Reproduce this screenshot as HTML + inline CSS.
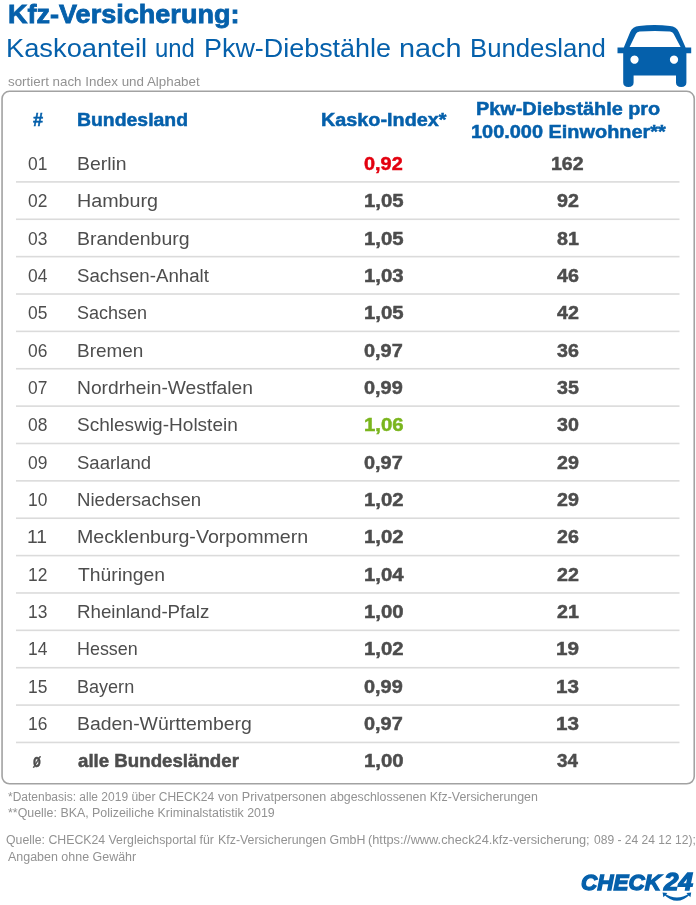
<!DOCTYPE html>
<html lang="de"><head><meta charset="utf-8"><title>Kfz-Versicherung: Kaskoanteil und Pkw-Diebstähle nach Bundesland</title>
<style>
html,body{margin:0;padding:0;background:#fff}
body{width:696px;height:905px;position:relative;overflow:hidden;font-family:"Liberation Sans",sans-serif}
.t{position:absolute;white-space:nowrap;line-height:1;transform-origin:0 0;display:block}
</style></head><body>
<svg width="696" height="905" viewBox="0 0 696 905" style="position:absolute;left:0;top:0">
<rect x="2.05" y="91.3" width="692.2" height="692.5" rx="7.5" ry="7.5" fill="none" stroke="#a2a2a2" stroke-width="1.6"/>
<rect x="16" y="181.10" width="663.5" height="1.6" fill="#dbdbdb"/>
<rect x="16" y="218.47" width="663.5" height="1.6" fill="#dbdbdb"/>
<rect x="16" y="255.84" width="663.5" height="1.6" fill="#dbdbdb"/>
<rect x="16" y="293.21" width="663.5" height="1.6" fill="#dbdbdb"/>
<rect x="16" y="330.58" width="663.5" height="1.6" fill="#dbdbdb"/>
<rect x="16" y="367.95" width="663.5" height="1.6" fill="#dbdbdb"/>
<rect x="16" y="405.32" width="663.5" height="1.6" fill="#dbdbdb"/>
<rect x="16" y="442.69" width="663.5" height="1.6" fill="#dbdbdb"/>
<rect x="16" y="480.06" width="663.5" height="1.6" fill="#dbdbdb"/>
<rect x="16" y="517.43" width="663.5" height="1.6" fill="#dbdbdb"/>
<rect x="16" y="554.80" width="663.5" height="1.6" fill="#dbdbdb"/>
<rect x="16" y="592.17" width="663.5" height="1.6" fill="#dbdbdb"/>
<rect x="16" y="629.54" width="663.5" height="1.6" fill="#dbdbdb"/>
<rect x="16" y="666.91" width="663.5" height="1.6" fill="#dbdbdb"/>
<rect x="16" y="704.28" width="663.5" height="1.6" fill="#dbdbdb"/>
<rect x="16" y="741.65" width="663.5" height="1.6" fill="#dbdbdb"/>
</svg>
<svg class="car" width="76" height="64" viewBox="617 24 76 64" style="position:absolute;left:617px;top:24px">
<path fill="#0560ab" fill-rule="evenodd" d="M617.5 47.6 H623.8 L630.2 32 Q632.6 26.6 639 26 Q654.5 24.2 670 26 Q676.4 26.6 678.8 32 L685.6 47.6 H691.2 V53.2 H686.4 V82.6 Q686.4 87 681.2 87 Q676 87 676 82.6 V75.4 H633.6 V82.6 Q633.6 87 628.4 87 Q623.2 87 623.2 82.6 V53.2 H617.5 Z
M629.6 47 L636 33.8 Q637 31.7 639.6 31.5 Q654.8 30.3 670 31.5 Q672.6 31.7 673.6 33.8 L680.6 47 Z
M634.5 55.5 a4.1 4.1 0 1 0 0.01 0 Z M674 55.5 a4.1 4.1 0 1 0 0.01 0 Z"/>
</svg>
<span class="t" style="left:7.97px;top:1.00px;font-size:26.23px;color:#0560ab;font-weight:bold;-webkit-text-stroke:0.8px #0560ab;transform:scaleX(1.0317);">Kfz-Versicherung:</span>
<span class="t" style="left:6.44px;top:36.00px;font-size:25.22px;color:#0560ab;transform:scaleX(1.0819);">Kaskoanteil</span>
<span class="t" style="left:154.81px;top:36.00px;font-size:25.22px;color:#0560ab;transform:scaleX(0.9474);">und</span>
<span class="t" style="left:203.87px;top:36.00px;font-size:25.22px;color:#0560ab;transform:scaleX(1.0669);">Pkw-Diebstähle</span>
<span class="t" style="left:399.41px;top:36.00px;font-size:25.22px;color:#0560ab;transform:scaleX(1.1431);">nach</span>
<span class="t" style="left:469.66px;top:36.00px;font-size:25.22px;color:#0560ab;transform:scaleX(1.0200);">Bundesland</span>
<span class="t" style="left:8.00px;top:75.00px;font-size:13.33px;color:#929292;transform:scaleX(1.0026);">sortiert nach Index und Alphabet</span>
<span class="t" style="left:33.30px;top:111.00px;font-size:18.7px;color:#0560ab;font-weight:bold;-webkit-text-stroke:0.5px #0560ab;transform:scaleX(0.9727);">#</span>
<span class="t" style="left:77.26px;top:111.00px;font-size:18.7px;color:#0560ab;font-weight:bold;-webkit-text-stroke:0.5px #0560ab;transform:scaleX(1.0381);">Bundesland</span>
<span class="t" style="left:320.64px;top:111.00px;font-size:18.7px;color:#0560ab;font-weight:bold;-webkit-text-stroke:0.5px #0560ab;transform:scaleX(1.0598);">Kasko-Index*</span>
<span class="t" style="left:476.24px;top:100.00px;font-size:18.7px;color:#0560ab;font-weight:bold;-webkit-text-stroke:0.5px #0560ab;transform:scaleX(1.0622);">Pkw-Diebstähle pro</span>
<span class="t" style="left:470.63px;top:123.00px;font-size:18.7px;color:#0560ab;font-weight:bold;-webkit-text-stroke:0.5px #0560ab;transform:scaleX(1.0659);">100.000 Einwohner**</span>
<span class="t" style="left:27.59px;top:154.00px;font-size:19.13px;color:#4d4d4d;transform:scaleX(0.9100);">01</span>
<span class="t" style="left:77.29px;top:154.00px;font-size:19.13px;color:#4d4d4d;transform:scaleX(1.0149);">Berlin</span>
<span class="t" style="left:364.30px;top:154.00px;font-size:19.13px;color:#e3000f;font-weight:bold;-webkit-text-stroke:0.5px #e3000f;transform:scaleX(1.0405);">0,92</span>
<span class="t" style="left:550.68px;top:154.00px;font-size:19.13px;color:#4d4d4d;font-weight:bold;-webkit-text-stroke:0.5px #4d4d4d;transform:scaleX(1.0194);">162</span>
<span class="t" style="left:27.59px;top:191.00px;font-size:19.13px;color:#4d4d4d;transform:scaleX(0.9100);">02</span>
<span class="t" style="left:77.27px;top:191.00px;font-size:19.13px;color:#4d4d4d;transform:scaleX(1.0316);">Hamburg</span>
<span class="t" style="left:364.24px;top:191.00px;font-size:19.13px;color:#4d4d4d;font-weight:bold;-webkit-text-stroke:0.5px #4d4d4d;transform:scaleX(1.0639);">1,05</span>
<span class="t" style="left:556.70px;top:191.00px;font-size:19.13px;color:#4d4d4d;font-weight:bold;-webkit-text-stroke:0.5px #4d4d4d;transform:scaleX(1.0286);">92</span>
<span class="t" style="left:27.59px;top:229.00px;font-size:19.13px;color:#4d4d4d;transform:scaleX(0.9100);">03</span>
<span class="t" style="left:77.28px;top:229.00px;font-size:19.13px;color:#4d4d4d;transform:scaleX(1.0185);">Brandenburg</span>
<span class="t" style="left:364.24px;top:229.00px;font-size:19.13px;color:#4d4d4d;font-weight:bold;-webkit-text-stroke:0.5px #4d4d4d;transform:scaleX(1.0639);">1,05</span>
<span class="t" style="left:556.70px;top:229.00px;font-size:19.13px;color:#4d4d4d;font-weight:bold;-webkit-text-stroke:0.5px #4d4d4d;transform:scaleX(1.0286);">81</span>
<span class="t" style="left:27.59px;top:266.00px;font-size:19.13px;color:#4d4d4d;transform:scaleX(0.9100);">04</span>
<span class="t" style="left:77.32px;top:266.00px;font-size:19.13px;color:#4d4d4d;transform:scaleX(0.9776);">Sachsen-Anhalt</span>
<span class="t" style="left:364.24px;top:266.00px;font-size:19.13px;color:#4d4d4d;font-weight:bold;-webkit-text-stroke:0.5px #4d4d4d;transform:scaleX(1.0639);">1,03</span>
<span class="t" style="left:556.70px;top:266.00px;font-size:19.13px;color:#4d4d4d;font-weight:bold;-webkit-text-stroke:0.5px #4d4d4d;transform:scaleX(1.0286);">46</span>
<span class="t" style="left:27.59px;top:303.00px;font-size:19.13px;color:#4d4d4d;transform:scaleX(0.9100);">05</span>
<span class="t" style="left:77.36px;top:303.00px;font-size:19.13px;color:#4d4d4d;transform:scaleX(0.9403);">Sachsen</span>
<span class="t" style="left:364.24px;top:303.00px;font-size:19.13px;color:#4d4d4d;font-weight:bold;-webkit-text-stroke:0.5px #4d4d4d;transform:scaleX(1.0639);">1,05</span>
<span class="t" style="left:556.70px;top:303.00px;font-size:19.13px;color:#4d4d4d;font-weight:bold;-webkit-text-stroke:0.5px #4d4d4d;transform:scaleX(1.0286);">42</span>
<span class="t" style="left:27.59px;top:341.00px;font-size:19.13px;color:#4d4d4d;transform:scaleX(0.9100);">06</span>
<span class="t" style="left:77.31px;top:341.00px;font-size:19.13px;color:#4d4d4d;transform:scaleX(0.9908);">Bremen</span>
<span class="t" style="left:364.30px;top:341.00px;font-size:19.13px;color:#4d4d4d;font-weight:bold;-webkit-text-stroke:0.5px #4d4d4d;transform:scaleX(1.0405);">0,97</span>
<span class="t" style="left:556.70px;top:341.00px;font-size:19.13px;color:#4d4d4d;font-weight:bold;-webkit-text-stroke:0.5px #4d4d4d;transform:scaleX(1.0286);">36</span>
<span class="t" style="left:27.59px;top:378.00px;font-size:19.13px;color:#4d4d4d;transform:scaleX(0.9100);">07</span>
<span class="t" style="left:77.29px;top:378.00px;font-size:19.13px;color:#4d4d4d;transform:scaleX(1.0058);">Nordrhein-Westfalen</span>
<span class="t" style="left:364.30px;top:378.00px;font-size:19.13px;color:#4d4d4d;font-weight:bold;-webkit-text-stroke:0.5px #4d4d4d;transform:scaleX(1.0405);">0,99</span>
<span class="t" style="left:556.70px;top:378.00px;font-size:19.13px;color:#4d4d4d;font-weight:bold;-webkit-text-stroke:0.5px #4d4d4d;transform:scaleX(1.0286);">35</span>
<span class="t" style="left:27.59px;top:415.00px;font-size:19.13px;color:#4d4d4d;transform:scaleX(0.9100);">08</span>
<span class="t" style="left:77.30px;top:415.00px;font-size:19.13px;color:#4d4d4d;transform:scaleX(0.9962);">Schleswig-Holstein</span>
<span class="t" style="left:364.24px;top:415.00px;font-size:19.13px;color:#7ab51d;font-weight:bold;-webkit-text-stroke:0.5px #7ab51d;transform:scaleX(1.0639);">1,06</span>
<span class="t" style="left:556.70px;top:415.00px;font-size:19.13px;color:#4d4d4d;font-weight:bold;-webkit-text-stroke:0.5px #4d4d4d;transform:scaleX(1.0286);">30</span>
<span class="t" style="left:27.59px;top:453.00px;font-size:19.13px;color:#4d4d4d;transform:scaleX(0.9100);">09</span>
<span class="t" style="left:77.33px;top:453.00px;font-size:19.13px;color:#4d4d4d;transform:scaleX(0.9689);">Saarland</span>
<span class="t" style="left:364.30px;top:453.00px;font-size:19.13px;color:#4d4d4d;font-weight:bold;-webkit-text-stroke:0.5px #4d4d4d;transform:scaleX(1.0405);">0,97</span>
<span class="t" style="left:556.70px;top:453.00px;font-size:19.13px;color:#4d4d4d;font-weight:bold;-webkit-text-stroke:0.5px #4d4d4d;transform:scaleX(1.0286);">29</span>
<span class="t" style="left:27.59px;top:490.00px;font-size:19.13px;color:#4d4d4d;transform:scaleX(0.9100);">10</span>
<span class="t" style="left:77.33px;top:490.00px;font-size:19.13px;color:#4d4d4d;transform:scaleX(0.9736);">Niedersachsen</span>
<span class="t" style="left:364.24px;top:490.00px;font-size:19.13px;color:#4d4d4d;font-weight:bold;-webkit-text-stroke:0.5px #4d4d4d;transform:scaleX(1.0639);">1,02</span>
<span class="t" style="left:556.70px;top:490.00px;font-size:19.13px;color:#4d4d4d;font-weight:bold;-webkit-text-stroke:0.5px #4d4d4d;transform:scaleX(1.0286);">29</span>
<span class="t" style="left:27.49px;top:527.00px;font-size:19.13px;color:#4d4d4d;transform:scaleX(1.0111);">11</span>
<span class="t" style="left:77.27px;top:527.00px;font-size:19.13px;color:#4d4d4d;transform:scaleX(1.0269);">Mecklenburg-Vorpommern</span>
<span class="t" style="left:364.24px;top:527.00px;font-size:19.13px;color:#4d4d4d;font-weight:bold;-webkit-text-stroke:0.5px #4d4d4d;transform:scaleX(1.0639);">1,02</span>
<span class="t" style="left:556.70px;top:527.00px;font-size:19.13px;color:#4d4d4d;font-weight:bold;-webkit-text-stroke:0.5px #4d4d4d;transform:scaleX(1.0286);">26</span>
<span class="t" style="left:27.59px;top:565.00px;font-size:19.13px;color:#4d4d4d;transform:scaleX(0.9100);">12</span>
<span class="t" style="left:78.30px;top:565.00px;font-size:19.13px;color:#4d4d4d;transform:scaleX(1.0118);">Thüringen</span>
<span class="t" style="left:364.24px;top:565.00px;font-size:19.13px;color:#4d4d4d;font-weight:bold;-webkit-text-stroke:0.5px #4d4d4d;transform:scaleX(1.0639);">1,04</span>
<span class="t" style="left:556.70px;top:565.00px;font-size:19.13px;color:#4d4d4d;font-weight:bold;-webkit-text-stroke:0.5px #4d4d4d;transform:scaleX(1.0286);">22</span>
<span class="t" style="left:27.59px;top:602.00px;font-size:19.13px;color:#4d4d4d;transform:scaleX(0.9100);">13</span>
<span class="t" style="left:77.32px;top:602.00px;font-size:19.13px;color:#4d4d4d;transform:scaleX(0.9805);">Rheinland-Pfalz</span>
<span class="t" style="left:364.24px;top:602.00px;font-size:19.13px;color:#4d4d4d;font-weight:bold;-webkit-text-stroke:0.5px #4d4d4d;transform:scaleX(1.0639);">1,00</span>
<span class="t" style="left:556.70px;top:602.00px;font-size:19.13px;color:#4d4d4d;font-weight:bold;-webkit-text-stroke:0.5px #4d4d4d;transform:scaleX(1.0286);">21</span>
<span class="t" style="left:27.59px;top:639.00px;font-size:19.13px;color:#4d4d4d;transform:scaleX(0.9100);">14</span>
<span class="t" style="left:77.36px;top:639.00px;font-size:19.13px;color:#4d4d4d;transform:scaleX(0.9365);">Hessen</span>
<span class="t" style="left:364.24px;top:639.00px;font-size:19.13px;color:#4d4d4d;font-weight:bold;-webkit-text-stroke:0.5px #4d4d4d;transform:scaleX(1.0639);">1,02</span>
<span class="t" style="left:555.62px;top:639.00px;font-size:19.13px;color:#4d4d4d;font-weight:bold;-webkit-text-stroke:0.5px #4d4d4d;transform:scaleX(1.0800);">19</span>
<span class="t" style="left:27.59px;top:677.00px;font-size:19.13px;color:#4d4d4d;transform:scaleX(0.9100);">15</span>
<span class="t" style="left:77.36px;top:677.00px;font-size:19.13px;color:#4d4d4d;transform:scaleX(0.9441);">Bayern</span>
<span class="t" style="left:364.30px;top:677.00px;font-size:19.13px;color:#4d4d4d;font-weight:bold;-webkit-text-stroke:0.5px #4d4d4d;transform:scaleX(1.0405);">0,99</span>
<span class="t" style="left:555.62px;top:677.00px;font-size:19.13px;color:#4d4d4d;font-weight:bold;-webkit-text-stroke:0.5px #4d4d4d;transform:scaleX(1.0800);">13</span>
<span class="t" style="left:27.59px;top:714.00px;font-size:19.13px;color:#4d4d4d;transform:scaleX(0.9100);">16</span>
<span class="t" style="left:77.28px;top:714.00px;font-size:19.13px;color:#4d4d4d;transform:scaleX(1.0159);">Baden-Württemberg</span>
<span class="t" style="left:364.30px;top:714.00px;font-size:19.13px;color:#4d4d4d;font-weight:bold;-webkit-text-stroke:0.5px #4d4d4d;transform:scaleX(1.0405);">0,97</span>
<span class="t" style="left:555.62px;top:714.00px;font-size:19.13px;color:#4d4d4d;font-weight:bold;-webkit-text-stroke:0.5px #4d4d4d;transform:scaleX(1.0800);">13</span>
<span class="t" style="left:32.50px;top:751.00px;font-size:19.13px;color:#4d4d4d;font-weight:bold;-webkit-text-stroke:0.5px #4d4d4d;transform:scaleX(0.6667);">ø</span>
<span class="t" style="left:78.30px;top:751.00px;font-size:19.13px;color:#4d4d4d;font-weight:bold;-webkit-text-stroke:0.5px #4d4d4d;transform:scaleX(0.9776);">alle Bundesländer</span>
<span class="t" style="left:364.24px;top:751.00px;font-size:19.13px;color:#4d4d4d;font-weight:bold;-webkit-text-stroke:0.5px #4d4d4d;transform:scaleX(1.0639);">1,00</span>
<span class="t" style="left:556.70px;top:751.00px;font-size:19.13px;color:#4d4d4d;font-weight:bold;-webkit-text-stroke:0.5px #4d4d4d;transform:scaleX(0.9818);">34</span>
<span class="t" style="left:7.80px;top:791.00px;font-size:12.61px;color:#929292;transform:scaleX(0.9514);">*Datenbasis: alle 2019 über CHECK24</span>
<span class="t" style="left:218.30px;top:791.00px;font-size:12.61px;color:#929292;transform:scaleX(0.9972);">von Privatpersonen</span>
<span class="t" style="left:330.00px;top:791.00px;font-size:12.61px;color:#929292;transform:scaleX(0.9820);">abgeschlossenen Kfz-Versicherungen</span>
<span class="t" style="left:7.50px;top:807.00px;font-size:12.61px;color:#929292;transform:scaleX(0.9834);">**Quelle: BKA, Polizeiliche Kriminalstatistik 2019</span>
<span class="t" style="left:6.42px;top:834.00px;font-size:12.61px;color:#929292;transform:scaleX(0.9759);">Quelle: CHECK24 Vergleichsportal für</span>
<span class="t" style="left:217.62px;top:834.00px;font-size:12.61px;color:#929292;transform:scaleX(0.9824);">Kfz-Versicherungen GmbH</span>
<span class="t" style="left:367.99px;top:834.00px;font-size:12.61px;color:#929292;transform:scaleX(1.0138);">(https://www.check24.kfz-versicherung;</span>
<span class="t" style="left:594.00px;top:834.00px;font-size:12.61px;color:#929292;transform:scaleX(0.9552);">089 - 24 24 12 12);</span>
<span class="t" style="left:7.50px;top:851.00px;font-size:12.61px;color:#929292;transform:scaleX(0.9885);">Angaben ohne Gewähr</span>
<span class="t" style="left:581.20px;top:871.00px;font-size:22.75px;color:#0560ab;font-weight:bold;font-style:italic;-webkit-text-stroke:1.3px #0560ab;transform:scaleX(0.9893);">CHECK</span>
<span class="t" style="left:664.12px;top:871.00px;font-size:23.19px;color:#0560ab;font-weight:bold;font-style:italic;-webkit-text-stroke:1.3px #0560ab;transform:scaleX(1.1222);">24</span>
<svg width="40" height="16" viewBox="658 888 40 16" style="position:absolute;left:658px;top:888px">
<path d="M663.6 894.2 Q677 907.4 690.2 894.2 L689.2 893.6 Q677 901.6 664.6 893.6 Z" fill="#0560ab"/>
<path d="M662.6 892.4 L667.4 893 L663.4 897.2 Z M691.2 892.4 L686.4 893 L690.4 897.2 Z" fill="#0560ab"/>
</svg>
</body></html>
